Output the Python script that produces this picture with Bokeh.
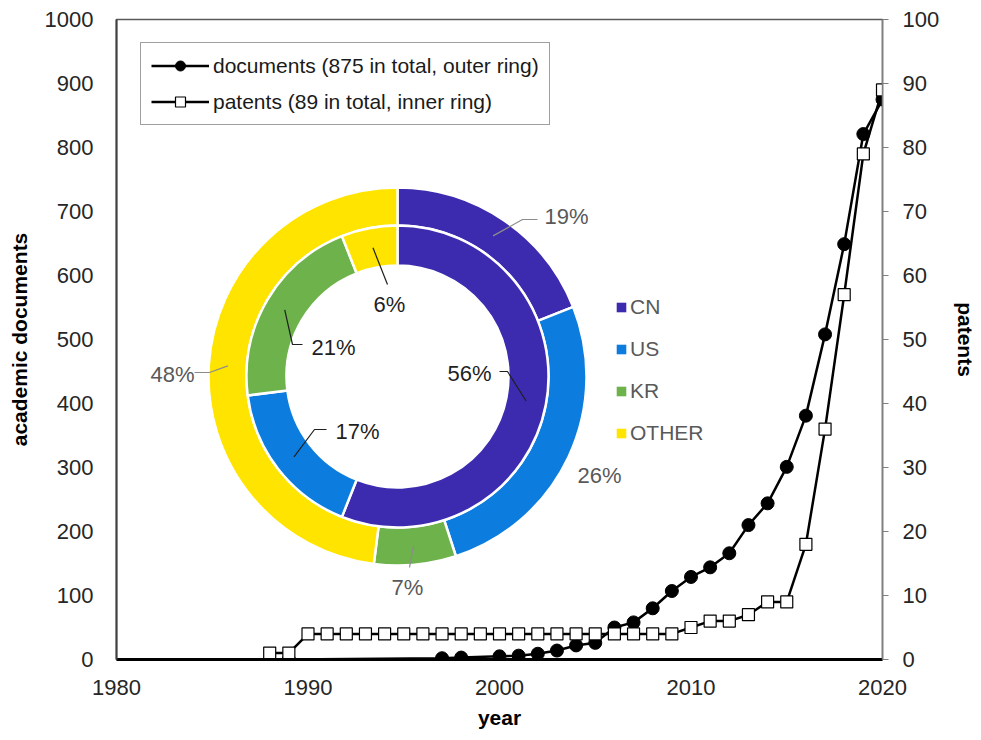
import math
from bokeh.plotting import figure
from bokeh.models import (Range1d, LinearAxis, FixedTicker, Legend, LegendItem,
                          ColumnDataSource)
from bokeh.core.properties import value
from bokeh.embed import file_html
from bokeh.resources import INLINE

# ---------------- data ----------------
doc_years = [1989, 1997, 1998, 2000, 2001, 2002, 2003, 2004, 2005, 2006, 2007, 2008,
             2009, 2010, 2011, 2012, 2013, 2014, 2015, 2016, 2017, 2018, 2019, 2020]
doc_values = [0, 2, 3, 5, 6, 9, 14, 22, 26, 50, 58, 80,
              107, 129, 144, 166, 210, 244, 301, 381, 508, 649, 821, 875]

pat_years = [1988, 1989, 1990, 1991, 1992, 1993, 1994, 1995, 1996, 1997, 1998, 1999,
             2000, 2001, 2002, 2003, 2004, 2005, 2006, 2007, 2008, 2009, 2010, 2011,
             2012, 2013, 2014, 2015, 2016, 2017, 2018, 2019, 2020]
pat_values = [1, 1, 4, 4, 4, 4, 4, 4, 4, 4, 4, 4,
              4, 4, 4, 4, 4, 4, 4, 4, 4, 4, 5, 6,
              6, 7, 9, 9, 18, 36, 57, 79, 89]

countries = ["CN", "US", "KR", "OTHER"]
doc_share = [19, 26, 7, 48]     # outer ring (documents)
pat_share = [56, 17, 21, 6]     # inner ring (patents)
country_colors = ["#3C2BAF", "#0C7DDF", "#6DB24A", "#FFE400"]

x_ticks = [1980, 1990, 2000, 2010, 2020]
left_ticks = [0, 100, 200, 300, 400, 500, 600, 700, 800, 900, 1000]
right_ticks = [0, 10, 20, 30, 40, 50, 60, 70, 80, 90, 100]

doc_label = "documents (875 in total, outer ring)"
pat_label = "patents (89 in total, inner ring)"

# ---------------- layout / style ----------------
FONT = "Liberation Sans"
FW, FH = 766, 640
PIE_CX, PIE_CY = 281, 283          # donut centre, px from frame left / bottom
OUTER_R = (151, 189)
INNER_R = (111, 151)

# label layout (px relative to donut centre): text pos, elbow, end of leader
outer_label_layout = [((169, 160), (125, 157), (140, 157)),
                      ((202, -99), None, None),
                      ((10, -211), (12, -191), (12, -191)),
                      ((-225, 2), (-188, 4), (-203, 4))]
inner_label_layout = [((72, 3), (110, 5), (102, 5)),
                      ((-40, -55), (-83, -53), (-71, -53)),
                      ((-64, 29), (-105, 32), (-95, 32)),
                      ((-8, 72), (-10, 92), (-10, 92))]

p = figure(frame_width=FW, frame_height=FH,
           x_range=Range1d(1980, 2020), y_range=Range1d(0, 1000),
           output_backend="svg", toolbar_location=None,
           min_border_top=19, min_border_bottom=5,
           background_fill_color="white", border_fill_color="white")
p.margin = (0, 0, 0, 4)
p.extra_y_ranges = {"pat": Range1d(0, 100),
                    "pie_y": Range1d(-PIE_CY, FH - PIE_CY)}
p.extra_x_ranges = {"pie_x": Range1d(-PIE_CX, FW - PIE_CX)}
p.xgrid.visible = False
p.ygrid.visible = False
p.outline_line_color = "#595959"
p.outline_line_width = 1.5

def style_axis(ax):
    ax.major_label_text_font = FONT
    ax.major_label_text_font_size = "22px"
    ax.major_label_text_color = "#262626"
    ax.axis_label_text_font = FONT
    ax.axis_label_text_font_size = "21px"
    ax.axis_label_text_font_style = "bold"
    ax.axis_label_text_color = "black"
    ax.minor_tick_line_color = None

xa = p.xaxis[0]
xa.ticker = FixedTicker(ticks=x_ticks)
xa.axis_label = "year"
style_axis(xa)
xa.axis_line_color = "black"
xa.axis_line_width = 3
xa.major_tick_line_color = None
xa.major_label_standoff = 14
xa.axis_label_standoff = 8

ya = p.yaxis[0]
ya.ticker = FixedTicker(ticks=left_ticks)
ya.axis_label = "academic documents"
style_axis(ya)
ya.axis_line_color = "#404040"
ya.axis_line_width = 2
ya.major_tick_line_color = None
ya.major_label_standoff = 17
ya.axis_label_standoff = 11

ra = LinearAxis(y_range_name="pat", ticker=FixedTicker(ticks=right_ticks),
                axis_label="patents")
style_axis(ra)
ra.axis_line_color = "#7f7f7f"
ra.axis_line_width = 1.5
ra.major_tick_line_color = "#7f7f7f"
ra.major_tick_out = 6
ra.major_tick_in = 0
ra.major_label_standoff = 14
ra.axis_label_standoff = 12
p.add_layout(ra, "right")

# ---------------- donut ----------------
def ring(shares, radii, label_layout, label_color, leader_color):
    starts, ends, mids = [], [], []
    c = 0.0
    for s in shares:
        a0 = math.pi / 2 - 2 * math.pi * c / 100
        c += s
        a1 = math.pi / 2 - 2 * math.pi * c / 100
        starts.append(a0)
        ends.append(a1)
        mids.append((a0 + a1) / 2)
    src = ColumnDataSource(dict(start=starts, end=ends, color=country_colors))
    p.annular_wedge(x=0, y=0, inner_radius=radii[0], outer_radius=radii[1],
                    start_angle="start", end_angle="end", direction="clock",
                    fill_color="color", line_color="white", line_width=2.5,
                    source=src, x_range_name="pie_x", y_range_name="pie_y")
    rmid = (radii[0] + radii[1]) / 2
    tx, ty, txt, lxs, lys = [], [], [], [], []
    for s, m, (tp, elbow, end) in zip(shares, mids, label_layout):
        tx.append(tp[0])
        ty.append(tp[1])
        txt.append(f"{s}%")
        if elbow is not None:
            lxs.append([rmid * math.cos(m), elbow[0], end[0]])
            lys.append([rmid * math.sin(m), elbow[1], end[1]])
    p.multi_line(xs=lxs, ys=lys, line_color=leader_color, line_width=1.2,
                 x_range_name="pie_x", y_range_name="pie_y")
    p.text(x=tx, y=ty, text=txt, text_font=value(FONT), text_font_size="22px",
           text_color=label_color, text_align="center", text_baseline="middle",
           x_range_name="pie_x", y_range_name="pie_y")

ring(doc_share, OUTER_R, outer_label_layout, "#595959", "#8c8c8c")
ring(pat_share, INNER_R, inner_label_layout, "#1f1f1f", "#1f1f1f")

# ---------------- series ----------------
dl = p.line(doc_years, doc_values, line_color="black", line_width=2.5)
ds = p.scatter(doc_years, doc_values, marker="circle", size=13,
               fill_color="black", line_color="black")
pl = p.line(pat_years, pat_values, line_color="black", line_width=2.5,
            y_range_name="pat")
ps = p.scatter(pat_years, pat_values, marker="square", size=12,
               fill_color="white", line_color="black", line_width=1.2,
               y_range_name="pat")

leg = Legend(items=[LegendItem(label=doc_label, renderers=[dl, ds]),
                    LegendItem(label=pat_label, renderers=[pl, ps])],
             location=(24, 534), border_line_color="#404040",
             border_line_width=1.5, background_fill_color="white",
             background_fill_alpha=1, padding=10, spacing=11, margin=0,
             glyph_width=58, glyph_height=25, label_standoff=4,
             label_text_font=FONT, label_text_font_size="21px",
             label_text_color="#1a1a1a")
p.add_layout(leg)

nan = float("nan")
dummies = []
for name, col in zip(countries, country_colors):
    r = p.quad(left=[nan], right=[nan], top=[nan], bottom=[nan],
               fill_color=col, line_color=None)
    dummies.append(LegendItem(label=name, renderers=[r]))
pie_leg = Legend(items=dummies, location=(499, 214), border_line_color=None,
                 background_fill_alpha=0, padding=0, margin=0, spacing=18,
                 glyph_width=12, glyph_height=12, label_standoff=3,
                 label_text_font=FONT, label_text_font_size="21px",
                 label_text_color="#595959")
p.add_layout(pie_leg)

open("out.html", "w").write(file_html(p, INLINE))
